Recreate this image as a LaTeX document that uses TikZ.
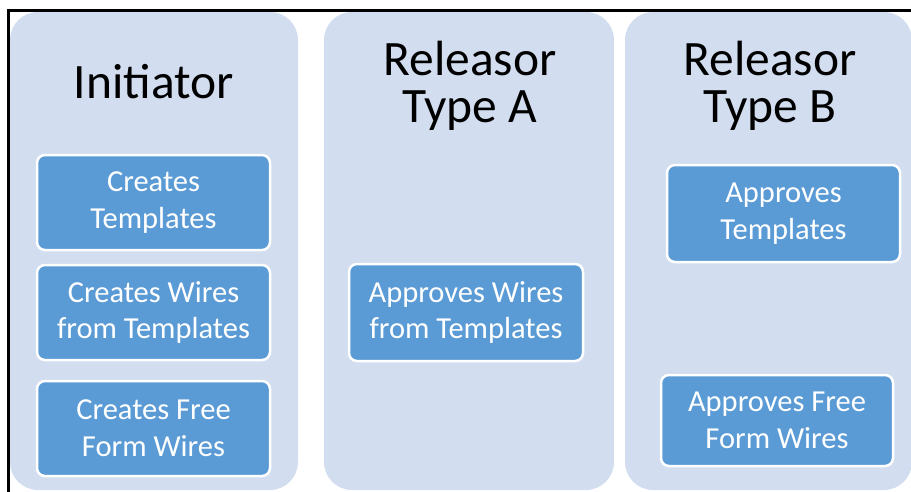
\documentclass[tikz,border=0pt]{standalone}
\usepackage{fontspec}
\setmainfont{Carlito}
\definecolor{lanefill}{HTML}{D2DEEF}
\definecolor{taskfill}{HTML}{5B9BD5}
\begin{document}
\begin{tikzpicture}[x=1pt,y=-1pt,
  lane/.style={fill=lanefill, rounded corners=28pt},
  lanetitle/.style={anchor=base, align=center, text=black,
    font=\fontsize{49.5}{47}\selectfont, inner sep=0pt},
  task/.style={draw=white, line width=2.5pt, fill=taskfill, rounded corners=8pt,
    text=white, align=center, font=\fontsize{30.5}{36.6}\selectfont,
    inner sep=0pt, minimum width=233pt, minimum height=95pt}]
  \useasboundingbox (0,0) rectangle (911,491);
  % swim lanes
  \path[lane] (10,12) rectangle (298,490);
  \path[lane] (324,12) rectangle (614,490);
  \path[lane] (625,12) rectangle (912,490);
  % lane titles (base anchor sits on the last line)
  \node[lanetitle] (tinit) at (154,98) {Initiator};
  \node[lanetitle] (trela) at (470,122) {Releasor\\Type A};
  \node[lanetitle] (trelb) at (770,122) {Releasor\\Type B};
  % tasks
  \node[task] (b1) at (153.5,202.5) {Creates\\Templates};
  \node[task] (b2) at (153.5,312.5) {Creates Wires\\from Templates};
  \node[task] (b3) at (153.5,428.5) {Creates Free\\Form Wires};
  \node[task, minimum width=234pt, minimum height=97pt] (a1) at (466,312.5) {Approves Wires\\from Templates};
  \node[task, minimum height=97pt] (c1) at (783.5,213.5) {Approves\\Templates};
  \node[task, minimum width=232pt, minimum height=91pt] (c2) at (777,420.5) {Approves Free\\Form Wires};
  % frame
  \draw[line width=3pt] (8,492) -- (8,10) -- (912,10);
\end{tikzpicture}
\end{document}
